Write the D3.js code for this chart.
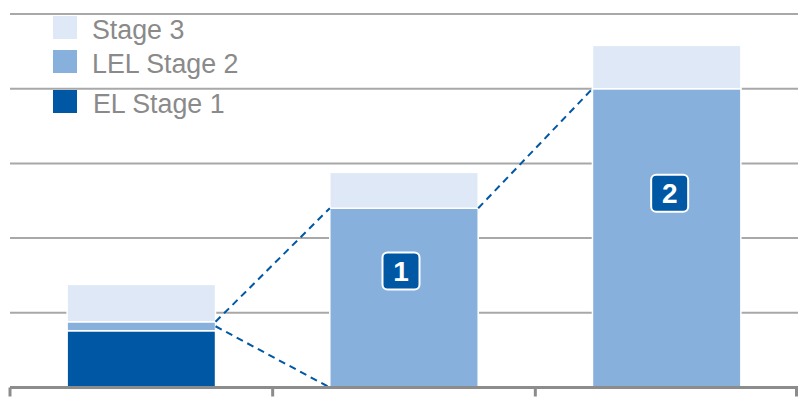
<!DOCTYPE html>
<html><head><meta charset="utf-8">
<script src="https://cdn.jsdelivr.net/npm/d3@7"></script>
<style>html,body{margin:0;padding:0;background:#fff;}svg{display:block;}</style>
</head><body>
<svg id="chart" width="798" height="404"></svg>
<script>
const categories = ["Current", "Scenario 1", "Scenario 2"];
const stage1 = [76, 0, 0];
const lelStage2 = [12, 240, 400];
const stage3 = [50, 48, 58];
const seriesNames = ["EL Stage 1", "LEL Stage 2", "Stage 3"];
const badgeLabels = ["", "1", "2"];
const gridValues = [100, 200, 300, 400, 500];
// connectors: [fromIndex, fromValue, toIndex, toValue]
const connectors = [[0, 88, 1, 240], [0, 82, 1, 0], [1, 240, 2, 400]];

const colors = ["#0057a3", "#87b1dc", "#dee8f6"];
const svg = d3.select("#chart");
const x = d3.scaleBand().domain(categories).range([10, 798]).paddingInner(0.435).paddingOuter(0.2175);
const y = d3.scaleLinear().domain([0, 500]).range([387.5, 14]);

// gridlines
svg.append("g").selectAll("line").data(gridValues).join("line")
  .attr("x1", 10).attr("x2", 798)
  .attr("y1", d => y(d)).attr("y2", d => y(d))
  .attr("stroke", "#a8a8a8").attr("stroke-width", 2);

// stacked bars
const rows = categories.map((c, i) => ({cat: c, s1: stage1[i], s2: lelStage2[i], s3: stage3[i]}));
const stack = d3.stack().keys(["s1", "s2", "s3"])(rows);
svg.append("g").selectAll("g").data(stack).join("g")
  .attr("fill", (d, i) => colors[i])
  .selectAll("rect").data(d => d.filter(p => p[1] - p[0] > 0)).join("rect")
  .attr("x", d => x(d.data.cat))
  .attr("width", x.bandwidth())
  .attr("y", d => y(d[1]))
  .attr("height", d => y(d[0]) - y(d[1]))
  .attr("stroke", "#fff").attr("stroke-width", 1.5);

// connectors
svg.append("g").selectAll("line").data(connectors).join("line")
  .attr("x1", d => x(categories[d[0]]) + x.bandwidth())
  .attr("y1", d => y(d[1]))
  .attr("x2", d => x(categories[d[2]]))
  .attr("y2", d => y(d[3]))
  .attr("stroke", "#0057a3").attr("stroke-width", 2).attr("stroke-dasharray", "7,5");

// axis
const axisG = svg.append("g");
axisG.append("line").attr("x1", 10).attr("x2", 798).attr("y1", y(0)).attr("y2", y(0))
  .attr("stroke", "#8c8c8c").attr("stroke-width", 3);
const tickXs = d3.range(categories.length + 1).map(i => x.range()[0] + i * x.step());
axisG.selectAll("line.tick").data(tickXs).join("line").attr("class", "tick")
  .attr("x1", d => Math.min(d, 796.5)).attr("x2", d => Math.min(d, 796.5))
  .attr("y1", y(0)).attr("y2", y(0) + 9)
  .attr("stroke", "#8c8c8c").attr("stroke-width", 3);

// badges
const badges = svg.append("g").selectAll("g").data(rows.map((r, i) => ({r, i})).filter(d => badgeLabels[d.i]))
  .join("g")
  .attr("transform", d => `translate(${x(d.r.cat) + x.bandwidth() / 2 + (d.i === 1 ? -3 : 3)},${y(d.r.s1 + d.r.s2 * 0.65)})`);
badges.append("rect").attr("x", -18.5).attr("y", -18.5).attr("width", 37).attr("height", 37)
  .attr("rx", 5).attr("fill", "#0057a3").attr("stroke", "#fff").attr("stroke-width", 2);
badges.append("text").text(d => badgeLabels[d.i])
  .attr("text-anchor", "middle").attr("dy", "0.36em")
  .attr("font-family", "'Liberation Sans', Arial, sans-serif").attr("font-weight", "bold")
  .attr("font-size", 28).attr("fill", "#fff");

// legend
const legendItems = [
  {name: seriesNames[2], color: colors[2], y: 16, tx: 92, by: 39},
  {name: seriesNames[1], color: colors[1], y: 50, tx: 92, by: 73},
  {name: seriesNames[0], color: colors[0], y: 90, tx: 93, by: 113}
];
const lg = svg.append("g").selectAll("g").data(legendItems).join("g");
lg.append("rect").attr("x", 53).attr("y", d => d.y).attr("width", 24).attr("height", 23).attr("fill", d => d.color);
lg.append("text").attr("x", d => d.tx).attr("y", d => d.by).text(d => d.name)
  .attr("font-family", "'Liberation Sans', Arial, sans-serif").attr("font-size", 26.8)
  .attr("fill", "#8a8a8a");
</script>
</body></html>
